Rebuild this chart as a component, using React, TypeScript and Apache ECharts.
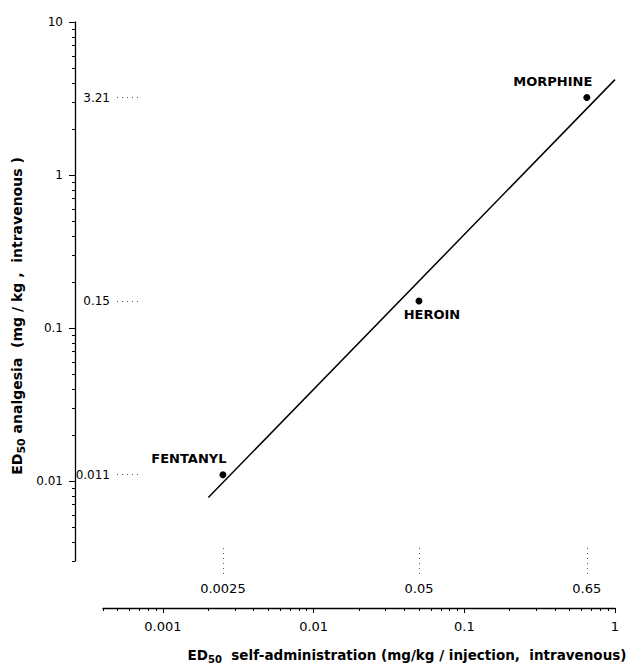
import React, { useEffect, useRef } from 'react';
import * as echarts from 'echarts';

// ---- data ----
const drugs = ['FENTANYL', 'HEROIN', 'MORPHINE'];
const selfAdministration = [0.0025, 0.05, 0.65]; // ED50 self-administration (mg/kg/injection)
const analgesia = [0.011, 0.15, 3.21]; // ED50 analgesia (mg/kg)

// fitted line end points
const fitLineX = [0.002, 1];
const fitLineY = [0.0078, 4.2];

// axis ticks
const xTickValues = [0.001, 0.01, 0.1, 1];
const yTickValues = [0.01, 0.1, 1, 10];
const xGuideValues = [0.0025, 0.05, 0.65];
const yGuideValues = [0.011, 0.15, 3.21];
const decadesX = [0.0001, 0.001, 0.01, 0.1];
const decadesY = [0.001, 0.01, 0.1, 1];
const minorMultipliers = [2, 3, 4, 5, 6, 7, 8, 9];

const X_MIN = 0.0004;
const X_MAX = 1;
const Y_MIN = 0.003;
const Y_MAX = 10;

const FONT = '"DejaVu Sans", Verdana, sans-serif';
const INK = '#000';

const fmt = (v: number) => String(Number(Number(v).toPrecision(6)));

function minorTicks(decades: number[], lo: number, hi: number) {
  const out: number[] = [];
  decades.forEach((d) =>
    minorMultipliers.forEach((m) => {
      const v = Number((d * m).toPrecision(6));
      if (v >= lo && v <= hi) out.push(v);
    })
  );
  return out;
}

// label placement relative to each dot (style only)
const labelOffsets: Record<string, [number, number]> = {
  FENTANYL: [-34, -16],
  HEROIN: [13, 13],
  MORPHINE: [-34, -16],
};

export default function App() {
  const ref = useRef<HTMLDivElement>(null);

  useEffect(() => {
    if (!ref.current) return;
    const chart = echarts.init(ref.current, undefined, { renderer: 'svg' });

    const tickLine = { color: INK, width: 1 };
    const guideLine = { color: '#555', width: 1, type: [1, 4] as any };

    const xBase = {
      type: 'log' as const,
      logBase: 10,
      min: X_MIN,
      max: X_MAX,
      position: 'bottom' as const,
      splitLine: { show: false },
      minorTick: { show: false },
      minorSplitLine: { show: false },
    };
    const yBase = {
      type: 'log' as const,
      logBase: 10,
      min: Y_MIN,
      max: Y_MAX,
      position: 'left' as const,
      splitLine: { show: false },
      minorTick: { show: false },
      minorSplitLine: { show: false },
    };

    const option: any = {
      animation: false,
      backgroundColor: '#fff',
      grid: { left: 103, right: 18, top: 22, bottom: 103, containLabel: false, outerBoundsMode: 'none' },
      xAxis: [
        {
          ...xBase,
          offset: 47,
          axisLine: { show: true, onZero: false, lineStyle: { color: INK, width: 1.3 } },
          axisTick: { show: true, length: 5, customValues: xTickValues, lineStyle: tickLine },
          axisLabel: {
            show: true,
            customValues: xTickValues,
            formatter: fmt,
            margin: 12,
            color: INK,
            fontSize: 13,
            fontFamily: FONT,
          },
        },
        {
          ...xBase,
          offset: 47,
          axisLine: { show: false },
          axisTick: { show: true, length: 3, customValues: minorTicks(decadesX, X_MIN, X_MAX), lineStyle: tickLine },
          axisLabel: { show: false },
        },
        {
          ...xBase,
          offset: -13,
          axisLine: { show: false },
          axisTick: { show: true, length: 29, customValues: xGuideValues, lineStyle: guideLine },
          axisLabel: {
            show: true,
            customValues: xGuideValues,
            formatter: fmt,
            margin: 34,
            color: INK,
            fontSize: 13,
            fontFamily: FONT,
          },
        },
      ],
      yAxis: [
        {
          ...yBase,
          offset: 28,
          axisLine: { show: true, onZero: false, lineStyle: { color: INK, width: 1.3 } },
          axisTick: { show: true, length: 6, customValues: yTickValues, lineStyle: tickLine },
          axisLabel: {
            show: true,
            customValues: yTickValues,
            formatter: fmt,
            margin: 12,
            color: INK,
            fontSize: 12,
            fontFamily: FONT,
          },
        },
        {
          ...yBase,
          offset: 28,
          axisLine: { show: false },
          axisTick: { show: true, length: 3, customValues: minorTicks(decadesY, Y_MIN, Y_MAX), lineStyle: tickLine },
          axisLabel: { show: false },
        },
        {
          ...yBase,
          offset: -35,
          axisLine: { show: false },
          axisTick: { show: true, length: 25, customValues: yGuideValues, lineStyle: guideLine },
          axisLabel: {
            show: true,
            customValues: yGuideValues,
            formatter: fmt,
            margin: 28,
            color: INK,
            fontSize: 12,
            fontFamily: FONT,
          },
        },
      ],
      series: [
        {
          type: 'line',
          xAxisIndex: 0,
          yAxisIndex: 0,
          data: fitLineX.map((x, i) => [x, fitLineY[i]]),
          symbol: 'none',
          lineStyle: { color: INK, width: 1.5 },
          silent: true,
        },
        {
          type: 'scatter',
          xAxisIndex: 0,
          yAxisIndex: 0,
          symbol: 'circle',
          symbolSize: 7,
          itemStyle: { color: INK, opacity: 1 },
          data: drugs.map((name, i) => ({
            name,
            value: [selfAdministration[i], analgesia[i]],
            label: {
              show: true,
              position: 'inside',
              offset: labelOffsets[name],
              formatter: name,
              color: INK,
              opacity: 1,
              textBorderWidth: 0,
              fontSize: 13,
              fontWeight: 'bold',
              fontFamily: FONT,
            },
          })),
        },
      ],
      graphic: [
        {
          type: 'text',
          x: 17,
          y: 316,
          rotation: Math.PI / 2,
          style: {
            text: '{a|ED}{s|50}{a| analgesia  (mg / kg ,  intravenous )}',
            align: 'center',
            verticalAlign: 'middle',
            fill: INK,
            rich: {
              a: { fontSize: 14, fontWeight: 'bold', fontFamily: FONT, fill: INK },
              s: { fontSize: 11, fontWeight: 'bold', fontFamily: FONT, fill: INK, padding: [9, 0, 0, 0] },
            },
          },
        },
        {
          type: 'text',
          x: 407,
          y: 655,
          style: {
            text: '{a|ED}{s|50}{a|  self-administration (mg/kg / injection,  intravenous)}',
            align: 'center',
            verticalAlign: 'middle',
            fill: INK,
            rich: {
              a: { fontSize: 13.5, fontWeight: 'bold', fontFamily: FONT, fill: INK },
              s: { fontSize: 10, fontWeight: 'bold', fontFamily: FONT, fill: INK, padding: [9, 0, 0, 0] },
            },
          },
        },
      ],
    };

    chart.setOption(option);
    return () => chart.dispose();
  }, []);

  return (
    <div
      ref={ref}
      style={{ position: 'fixed', left: 0, top: 0, width: 633, height: 664, background: '#fff' }}
    />
  );
}
